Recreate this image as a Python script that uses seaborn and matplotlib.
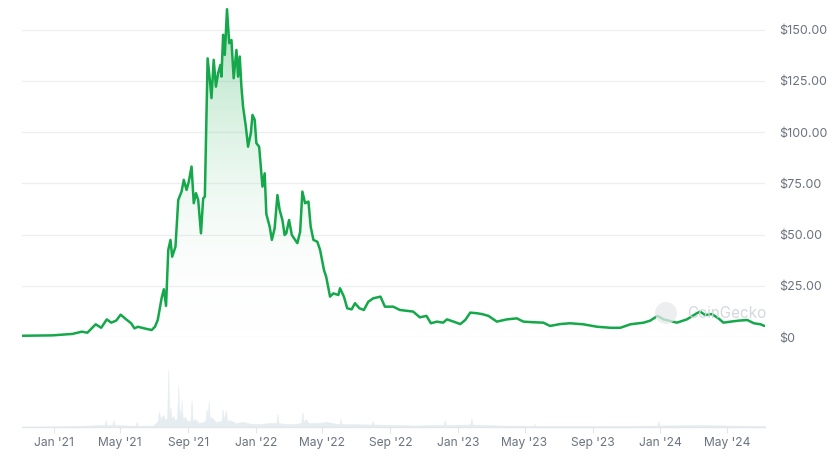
import numpy as np
import pandas as pd
import matplotlib
matplotlib.use("Agg")
import matplotlib.pyplot as plt
import matplotlib.dates as mdates
from matplotlib.patches import Circle
from matplotlib.colors import LinearSegmentedColormap
import seaborn as sns

# ---------------- data ----------------
price_dates = [
    "2020-11-06", "2020-12-30", "2021-02-04", "2021-02-21", "2021-03-03", "2021-03-18",
    "2021-03-28", "2021-04-07", "2021-04-15", "2021-04-24", "2021-05-02", "2021-05-12",
    "2021-05-21", "2021-05-27", "2021-06-02", "2021-06-14", "2021-06-27", "2021-07-03",
    "2021-07-08", "2021-07-15", "2021-07-19", "2021-07-23", "2021-07-27", "2021-07-31",
    "2021-08-03", "2021-08-09", "2021-08-14", "2021-08-20", "2021-08-24", "2021-08-29",
    "2021-09-02", "2021-09-07", "2021-09-11", "2021-09-15", "2021-09-19", "2021-09-24",
    "2021-09-28", "2021-10-01", "2021-10-04", "2021-10-06", "2021-10-10", "2021-10-13",
    "2021-10-17", "2021-10-21", "2021-10-25", "2021-10-29", "2021-10-31", "2021-11-03",
    "2021-11-06", "2021-11-10", "2021-11-14", "2021-11-18", "2021-11-22", "2021-11-27",
    "2021-11-30", "2021-12-03", "2021-12-06", "2021-12-09", "2021-12-14", "2021-12-18",
    "2021-12-23", "2021-12-26", "2021-12-30", "2022-01-02", "2022-01-07", "2022-01-13",
    "2022-01-17", "2022-01-20", "2022-01-26", "2022-01-30", "2022-02-04", "2022-02-09",
    "2022-02-13", "2022-02-18", "2022-02-22", "2022-02-25", "2022-03-02", "2022-03-07",
    "2022-03-13", "2022-03-17", "2022-03-22", "2022-03-26", "2022-03-31", "2022-04-06",
    "2022-04-10", "2022-04-15", "2022-04-22", "2022-04-27", "2022-05-04", "2022-05-08",
    "2022-05-12", "2022-05-15", "2022-05-21", "2022-05-30", "2022-06-02", "2022-06-09",
    "2022-06-15", "2022-06-23", "2022-06-29", "2022-07-07", "2022-07-15", "2022-07-23",
    "2022-08-01", "2022-08-14", "2022-08-22", "2022-09-06", "2022-09-18", "2022-09-30",
    "2022-10-12", "2022-10-24", "2022-11-05", "2022-11-13", "2022-11-24", "2022-12-05",
    "2022-12-12", "2022-12-24", "2023-01-05", "2023-01-14", "2023-01-23", "2023-02-04",
    "2023-02-13", "2023-02-25", "2023-03-12", "2023-03-30", "2023-04-17", "2023-04-29",
    "2023-05-17", "2023-06-04", "2023-06-16", "2023-07-04", "2023-07-22", "2023-08-15",
    "2023-09-09", "2023-10-03", "2023-10-21", "2023-11-08", "2023-12-02", "2023-12-14",
    "2023-12-27", "2024-01-07", "2024-01-31", "2024-02-18", "2024-03-07", "2024-03-13",
    "2024-03-22", "2024-04-03", "2024-04-15", "2024-04-24", "2024-05-07", "2024-05-22",
    "2024-06-06", "2024-06-18", "2024-06-30", "2024-07-07",
]
price_values = [
    0.6, 0.8, 1.5, 2.6, 2.1, 6.2,
    4.5, 8.6, 7.0, 8.0, 10.9, 8.6,
    6.7, 4.2, 5.0, 4.2, 3.4, 5.0,
    8.3, 19.0, 23.3, 15.2, 42.5, 47.4,
    39.2, 44.1, 66.9, 71.0, 76.7, 71.8,
    75.8, 83.2, 65.3, 70.2, 66.9, 50.6,
    67.7, 68.5, 107.6, 136.0, 125.5, 116.6,
    135.3, 122.2, 128.8, 132.8, 127.1, 147.5,
    137.7, 160.0, 143.4, 145.0, 126.3, 140.1,
    127.1, 136.9, 122.2, 112.4, 102.7, 92.9,
    99.5, 108.4, 106.0, 94.6, 92.9, 73.4,
    79.9, 60.0, 53.9, 47.4, 53.1, 69.3,
    62.0, 57.1, 49.8, 50.6, 57.1, 49.8,
    47.4, 45.8, 51.4, 71.0, 65.3, 66.1,
    53.9, 47.4, 46.5, 42.5, 32.7, 29.4,
    23.8, 19.7, 21.3, 20.5, 23.8, 19.7,
    14.0, 13.5, 16.5, 14.0, 13.2, 17.2,
    18.9, 19.7, 14.8, 14.8, 13.2, 12.8,
    12.4, 9.6, 10.3, 6.7, 7.5, 7.0,
    8.6, 7.5, 6.3, 8.3, 11.9, 11.6,
    11.2, 10.3, 7.5, 8.6, 9.1, 7.5,
    7.2, 7.0, 5.4, 6.3, 6.7, 6.2,
    5.0, 4.5, 4.5, 6.2, 7.0, 8.0,
    10.3, 8.6, 7.0, 8.6, 11.6, 12.4,
    10.7, 11.2, 9.1, 7.0, 7.5, 8.0,
    8.3, 6.7, 6.2, 5.4,
]

volume_dates = [
    "2020-11-06", "2021-01-15", "2021-02-20", "2021-03-20", "2021-04-03", "2021-04-05",
    "2021-04-07", "2021-04-17", "2021-04-19", "2021-04-21", "2021-05-15", "2021-05-29",
    "2021-05-31", "2021-06-02", "2021-06-30", "2021-07-08", "2021-07-10", "2021-07-13",
    "2021-07-18", "2021-07-21", "2021-07-25", "2021-07-27", "2021-07-29", "2021-07-31",
    "2021-08-02", "2021-08-05", "2021-08-08", "2021-08-12", "2021-08-14", "2021-08-16",
    "2021-08-17", "2021-08-19", "2021-08-20", "2021-08-22", "2021-08-26", "2021-08-30",
    "2021-09-05", "2021-09-07", "2021-09-09", "2021-09-13", "2021-09-20", "2021-09-28",
    "2021-10-02", "2021-10-04", "2021-10-06", "2021-10-08", "2021-10-10", "2021-10-13",
    "2021-10-20", "2021-10-31", "2021-11-02", "2021-11-04", "2021-11-08", "2021-11-10",
    "2021-11-15", "2021-11-25", "2021-12-09", "2021-12-25", "2022-01-10", "2022-01-25",
    "2022-02-07", "2022-02-09", "2022-02-11", "2022-02-25", "2022-03-10", "2022-03-24",
    "2022-03-26", "2022-03-28", "2022-04-01", "2022-04-06", "2022-04-21", "2022-05-10",
    "2022-05-28", "2022-06-01", "2022-06-03", "2022-06-05", "2022-07-29", "2022-07-31",
    "2022-08-02", "2022-09-15", "2022-10-15", "2022-11-15", "2022-12-06", "2022-12-08",
    "2022-12-10", "2023-01-23", "2023-01-25", "2023-01-27", "2023-03-15", "2023-05-17",
    "2023-05-19", "2023-05-21", "2023-07-15", "2023-09-15", "2023-11-15", "2023-12-27",
    "2023-12-29", "2023-12-31", "2024-03-10", "2024-05-01", "2024-07-07",
]
volume_values = [
    0.5, 0.6, 1.2, 1.8, 2.0, 7.0,
    2.0, 2.0, 7.0, 2.0, 1.5, 1.2,
    5.0, 1.2, 1.5, 6.0, 15.0, 8.0,
    12.0, 7.0, 9.0, 57.0, 10.0, 20.0,
    8.0, 11.0, 7.0, 8.0, 42.0, 10.0,
    17.0, 9.0, 27.0, 8.0, 10.0, 6.0,
    6.0, 27.0, 6.0, 8.0, 4.0, 5.0,
    6.0, 18.0, 8.0, 26.0, 7.0, 10.0,
    5.0, 6.0, 18.0, 7.0, 17.0, 6.0,
    7.0, 4.0, 5.0, 3.0, 3.0, 4.0,
    4.0, 13.0, 4.0, 3.0, 3.0, 4.0,
    15.0, 5.0, 8.0, 4.0, 4.0, 5.0,
    3.0, 3.0, 8.0, 3.0, 2.5, 6.0,
    2.5, 2.0, 1.5, 2.0, 2.0, 7.0,
    2.0, 2.5, 9.0, 2.5, 1.5, 1.2,
    3.0, 1.2, 1.0, 1.0, 1.2, 1.5,
    6.0, 1.5, 2.0, 1.5, 1.0,
]

price_ticks = [0, 25, 50, 75, 100, 125, 150]
price_tick_labels = ["$0", "$25.00", "$50.00", "$75.00", "$100.00", "$125.00", "$150.00"]
date_ticks = ["2021-01-01", "2021-05-01", "2021-09-01", "2022-01-01", "2022-05-01",
              "2022-09-01", "2023-01-01", "2023-05-01", "2023-09-01", "2024-01-01",
              "2024-05-01"]
date_tick_labels = ["Jan '21", "May '21", "Sep '21", "Jan '22", "May '22", "Sep '22",
                    "Jan '23", "May '23", "Sep '23", "Jan '24", "May '24"]

# ---------------- style ----------------
sns.set_theme(style="white")
plt.rcParams["font.family"] = ["Inter", "DejaVu Sans"]

LINE = "#14a84a"
GRID = "#eceff2"
TEXT = "#6b7280"
VOL = "#e6edf1"

price_df = pd.DataFrame({"date": pd.to_datetime(price_dates), "price": price_values})
vol_df = pd.DataFrame({"date": pd.to_datetime(volume_dates), "volume": volume_values})

W, H = 835, 461
fig = plt.figure(figsize=(W / 100, H / 100), dpi=100)
fig.patch.set_facecolor("white")

x0, x1 = 22, 765
ax = fig.add_axes([x0 / W, (H - 337) / H, (x1 - x0) / W, 337 / H])
axv = fig.add_axes([x0 / W, (H - 427) / H, (x1 - x0) / W, 82 / H], sharex=ax)

xmin = pd.Timestamp("2020-11-05")
xmax = pd.Timestamp("2024-07-08")
ymax = 164.5

# gradient fill under price line
poly = ax.fill_between(price_df["date"], price_df["price"], 0, color="none", lw=0)
grad = np.linspace(0.0, 1.0, 256).reshape(-1, 1)
cmap = LinearSegmentedColormap.from_list("g", [(1, 1, 1, 0), (0.08, 0.66, 0.29, 0.36)])
img = ax.imshow(grad, aspect="auto", cmap=cmap, origin="lower",
                extent=[mdates.date2num(xmin), mdates.date2num(xmax), 0, 160],
                zorder=1)
img.set_clip_path(poly.get_paths()[0], transform=ax.transData)

sns.lineplot(data=price_df, x="date", y="price", ax=ax, color=LINE, lw=1.8, zorder=3)

ax.set_xlim(xmin, xmax)
ax.set_ylim(0, ymax)
ax.set_yticks(price_ticks)
ax.set_yticklabels(price_tick_labels)
ax.yaxis.tick_right()
ax.tick_params(axis="y", length=0, pad=10, labelsize=9, labelcolor=TEXT)
ax.grid(axis="y", color=GRID, lw=0.9)
ax.grid(axis="x", visible=False)
ax.set_xlabel("")
ax.set_ylabel("")
for s in ax.spines.values():
    s.set_visible(False)
ax.tick_params(axis="x", bottom=False, labelbottom=False)

# watermark (display coords: origin bottom-left)
fig.patches.append(Circle((666, H - 313), 11, transform=None, facecolor="#e6e9ec",
                          alpha=0.75, edgecolor="none", zorder=4))
fig.text(687 / W, 1 - 314 / H, "CoinGecko", color="#cfd4d9", fontsize=11,
         va="center", ha="left", alpha=0.9, zorder=5)

# volume
axv.fill_between(vol_df["date"], vol_df["volume"], 0, color=VOL, lw=0.4, edgecolor=VOL)
axv.set_ylim(0, 82)
axv.set_yticks([])
axv.set_xticks(pd.to_datetime(date_ticks))
axv.set_xticklabels(date_tick_labels)
axv.tick_params(axis="x", length=4, width=0.8, color="#e3e7ea", labelsize=8.7,
                labelcolor=TEXT, pad=3, bottom=True)
for k, s in axv.spines.items():
    s.set_visible(k == "bottom")
axv.spines["bottom"].set_color("#e3e7ea")
axv.spines["bottom"].set_linewidth(1.0)
axv.set_facecolor("none")
axv.set_xlabel("")
axv.set_ylabel("")

fig.savefig("out.png", dpi=100, facecolor="white")
